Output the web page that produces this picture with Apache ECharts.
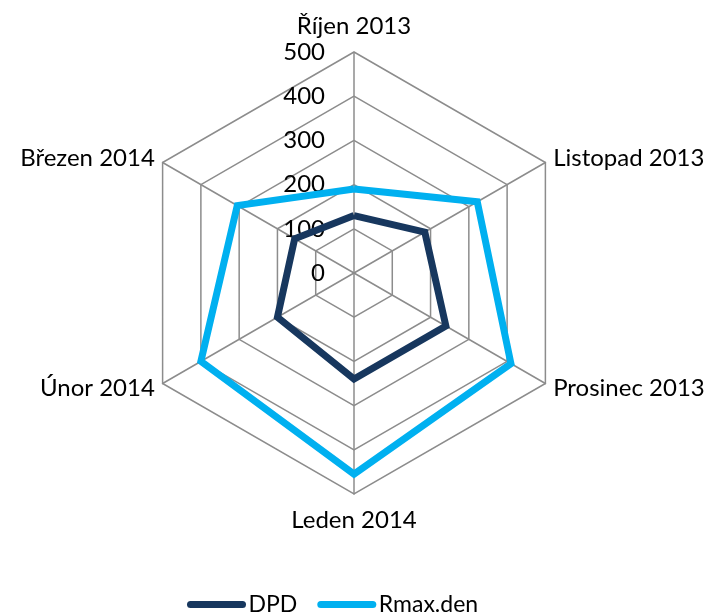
<!DOCTYPE html>
<html>
<head>
<meta charset="utf-8">
<script src="https://cdn.jsdelivr.net/npm/echarts@6/dist/echarts.min.js"></script>
<style>
  html, body { margin: 0; padding: 0; background: #fff; }
  #chart { width: 709px; height: 613px; }
</style>
</head>
<body>
<div id="chart"></div>
<script>
// Months on the radar spokes, read clockwise from the top
const months = ['Říjen 2013', 'Listopad 2013', 'Prosinec 2013', 'Leden 2014', 'Únor 2014', 'Březen 2014'];
// Series values per month
const dpd = [130, 185, 240, 240, 200, 155];
const rmaxDen = [190, 322, 410, 455, 400, 305];
// Scale of the radial axis
const axisMin = 0;
const axisMax = 500;
const axisSteps = 5;

// ECharts lays radar spokes out counter-clockwise; keep the first month on top
// and walk the rest in reverse so the months run clockwise.
const order = [0].concat(months.map(function (_, i) { return i; }).slice(1).reverse());
const pick = function (arr) { return order.map(function (i) { return arr[i]; }); };

const FONT = 'Lato, "Open Sans", sans-serif';
const capsule = 'path://M3.5,0 H55.5 A3.5,3.5 0 0 1 55.5,7 H3.5 A3.5,3.5 0 0 1 3.5,0 Z';

const chart = echarts.init(document.getElementById('chart'));
chart.setOption({
  animation: false,
  textStyle: { fontFamily: FONT },
  legend: {
    data: ['DPD', 'Rmax.den'],
    left: 182,
    top: 588,
    itemWidth: 60,
    itemHeight: 7,
    itemGap: 20,
    icon: capsule,
    textStyle: { fontSize: 23, color: '#000', fontFamily: FONT, padding: [0, 0, 0, -3] }
  },
  radar: {
    center: [354, 273],
    radius: 221,
    startAngle: 90,
    splitNumber: axisSteps,
    shape: 'polygon',
    nameGap: 9,
    axisName: {
      color: '#000',
      fontSize: 24,
      fontFamily: FONT,
      formatter: function (name) {
        if (name === months[0]) return '{up|' + name + '}';
        if (name === months[3]) return '{down|' + name + '}';
        return name;
      },
      rich: {
        up: { fontSize: 24, fontFamily: FONT, color: '#000', padding: [0, 0, 5, 0] },
        down: { fontSize: 24, fontFamily: FONT, color: '#000', padding: [5, 0, 0, 0] }
      }
    },
    indicator: pick(months).map(function (m, i) {
      const ind = { name: m, min: axisMin, max: axisMax };
      if (i === 0) {
        ind.axisLabel = { show: true, color: '#000', fontSize: 24, fontFamily: FONT, margin: 29 };
      }
      return ind;
    }),
    axisLine: { lineStyle: { color: '#8c8c8c', width: 1.5 } },
    splitLine: { lineStyle: { color: '#8c8c8c', width: 1.5 } },
    splitArea: { show: false },
    axisTick: { show: false },
    axisLabel: { show: false }
  },
  series: [{
    type: 'radar',
    symbol: 'none',
    data: [
      { name: 'DPD', value: pick(dpd),
        lineStyle: { color: '#17375E', width: 7, join: 'miter' },
        itemStyle: { color: '#17375E' } },
      { name: 'Rmax.den', value: pick(rmaxDen),
        lineStyle: { color: '#00B0F0', width: 7, join: 'miter' },
        itemStyle: { color: '#00B0F0' } }
    ]
  }]
});
</script>
</body>
</html>
